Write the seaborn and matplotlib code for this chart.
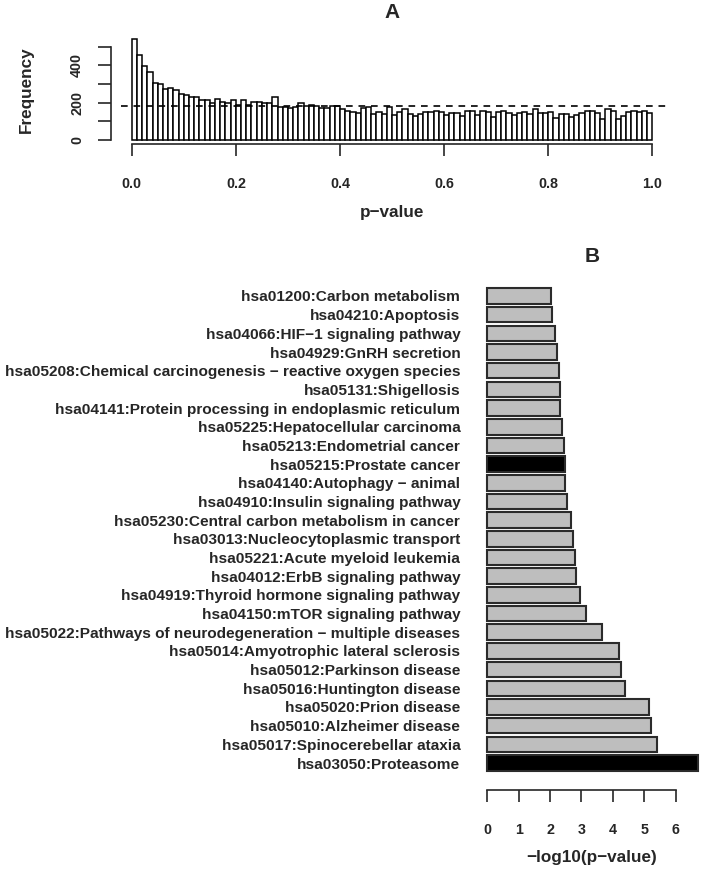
import matplotlib
matplotlib.use("Agg")
import matplotlib.pyplot as plt
import numpy as np
import pandas as pd
import seaborn as sns

sns.set_theme(style="ticks")
plt.rcParams['font.family'] = ['Liberation Sans', 'DejaVu Sans']
plt.rcParams['font.weight'] = 'bold'
plt.rcParams['axes.labelweight'] = 'bold'

# panel A: p-value histogram, 100 bins of width 0.01
pvalue_counts = [539, 455, 398, 366, 304, 298, 275, 279, 266, 245,
                 239, 230, 229, 214, 214, 200, 220, 205, 198, 216,
                 186, 214, 186, 202, 202, 196, 200, 229, 179, 179,
                 170, 177, 200, 184, 189, 184, 173, 170, 182, 182,
                 166, 157, 152, 145, 170, 175, 139, 152, 138, 179,
                 134, 152, 168, 139, 129, 139, 152, 152, 154, 150,
                 136, 146, 143, 130, 157, 157, 132, 157, 152, 125,
                 150, 154, 146, 134, 143, 150, 139, 168, 143, 143,
                 150, 116, 139, 139, 125, 132, 143, 155, 157, 143,
                 111, 164, 154, 111, 129, 150, 155, 152, 155, 143]
n_bins = len(pvalue_counts)
freq_ticks = [0, 100, 200, 300, 400, 500]
freq_labels = ['0', '', '200', '', '400', '']
p_ticks = [0.0, 0.2, 0.4, 0.6, 0.8, 1.0]

# panel B: enriched KEGG pathways, top to bottom
pathways = ['hsa01200:Carbon metabolism',
            'hsa04210:Apoptosis',
            'hsa04066:HIF\u22121 signaling pathway',
            'hsa04929:GnRH secretion',
            'hsa05208:Chemical carcinogenesis \u2212 reactive oxygen species',
            'hsa05131:Shigellosis',
            'hsa04141:Protein processing in endoplasmic reticulum',
            'hsa05225:Hepatocellular carcinoma',
            'hsa05213:Endometrial cancer',
            'hsa05215:Prostate cancer',
            'hsa04140:Autophagy \u2212 animal',
            'hsa04910:Insulin signaling pathway',
            'hsa05230:Central carbon metabolism in cancer',
            'hsa03013:Nucleocytoplasmic transport',
            'hsa05221:Acute myeloid leukemia',
            'hsa04012:ErbB signaling pathway',
            'hsa04919:Thyroid hormone signaling pathway',
            'hsa04150:mTOR signaling pathway',
            'hsa05022:Pathways of neurodegeneration \u2212 multiple diseases',
            'hsa05014:Amyotrophic lateral sclerosis',
            'hsa05012:Parkinson disease',
            'hsa05016:Huntington disease',
            'hsa05020:Prion disease',
            'hsa05010:Alzheimer disease',
            'hsa05017:Spinocerebellar ataxia',
            'hsa03050:Proteasome']
neg_log_p = [2.02, 2.07, 2.15, 2.22, 2.29, 2.32, 2.33, 2.39, 2.44, 2.47,
             2.46, 2.54, 2.68, 2.73, 2.80, 2.82, 2.95, 3.16, 3.66, 4.21,
             4.27, 4.40, 5.15, 5.23, 5.41, 6.72]
highlighted = ['hsa05215:Prostate cancer', 'hsa03050:Proteasome']
b_ticks = [0, 1, 2, 3, 4, 5, 6]

W, H = 701, 871
fig = plt.figure(figsize=(W / 100, H / 100), dpi=100)


def box(x0, y0, x1, y1):
    # pixel box (top-left origin) -> figure fraction rect
    return [x0 / W, 1 - y1 / H, (x1 - x0) / W, (y1 - y0) / H]


# ---- A ----
axA = fig.add_axes(box(111, 35.4, 673, 144))
dfA = pd.DataFrame({'p': (np.arange(n_bins) + 0.5) / n_bins,
                    'n': pvalue_counts})
sns.histplot(data=dfA, x='p', weights='n', bins=n_bins, binrange=(0, 1),
             ax=axA, color='white', edgecolor='black', linewidth=1.1,
             alpha=1)
axA.axhline(np.mean(pvalue_counts), xmin=0.018, xmax=0.99, color='black',
            lw=1.2, ls=(0, (4, 3.5)), zorder=5)
top = max(pvalue_counts)
axA.set_ylim(-0.04 * top, 1.04 * top)
axA.set_xlim(-0.04, 1.04)
axA.set_yticks(freq_ticks)
axA.set_yticklabels(freq_labels, rotation=90, va='center')
axA.set_xticks(p_ticks)
axA.set_xticklabels([f'{t:.1f}' for t in p_ticks])
axA.set_xlabel('')
axA.set_ylabel('')
for s in ['top', 'right']:
    axA.spines[s].set_visible(False)
axA.spines['left'].set_bounds(0, 500)
axA.spines['bottom'].set_bounds(0, 1)
for s in ['left', 'bottom']:
    axA.spines[s].set_linewidth(1.2)
axA.tick_params(axis='y', length=9.4, width=1.2, pad=10, labelsize=10.3)
axA.tick_params(axis='x', length=8.6, width=1.2, pad=15, labelsize=10.3)

fig.text(26 / W, 1 - 90 / H, 'Frequency', rotation=90, ha='center',
         va='center', fontsize=12.3, fontweight='bold')
fig.text(392 / W, 1 - 213 / H, 'p\u2212value', ha='center', va='center',
         fontsize=12.3, fontweight='bold')
fig.text(392 / W, 1 - 13 / H, 'A', ha='center', va='center',
         fontsize=15, fontweight='bold')

# ---- B ----
axB = fig.add_axes(box(479, 268.9, 706.5, 790.1))
dfB = pd.DataFrame({'pathway': pathways, 'score': neg_log_p})
palette = {p: ('black' if p in highlighted else '#BEBEBE') for p in pathways}
sns.barplot(data=dfB, x='score', y='pathway', hue='pathway', palette=palette,
            legend=False, orient='h', width=1 / 1.2, saturation=1,
            edgecolor='#2b2b2b', linewidth=1.5, ax=axB)
xmax = max(neg_log_p)
axB.set_xlim(-0.04 * xmax, 1.04 * xmax)
n = len(pathways)
axB.set_ylim(n - 1 + 1.74 / 1.2, -1.74 / 1.2)
axB.set_xticks(b_ticks)
axB.set_xticklabels([str(t) for t in b_ticks])
axB.set_xlabel('')
axB.set_ylabel('')
for s in ['top', 'right', 'left']:
    axB.spines[s].set_visible(False)
axB.spines['bottom'].set_bounds(0, 6)
axB.spines['bottom'].set_linewidth(1.2)
axB.tick_params(axis='x', length=8.6, width=1.2, pad=15, labelsize=10.3)
axB.tick_params(axis='y', length=0, pad=13.5, labelsize=11.1)

fig.text(592 / W, 1 - 857 / H, '\u2212log10(p\u2212value)', ha='center',
         va='center', fontsize=12.3, fontweight='bold')
fig.text(592 / W, 1 - 257 / H, 'B', ha='center', va='center',
         fontsize=15, fontweight='bold')

fig.savefig('out.png', dpi=100)
